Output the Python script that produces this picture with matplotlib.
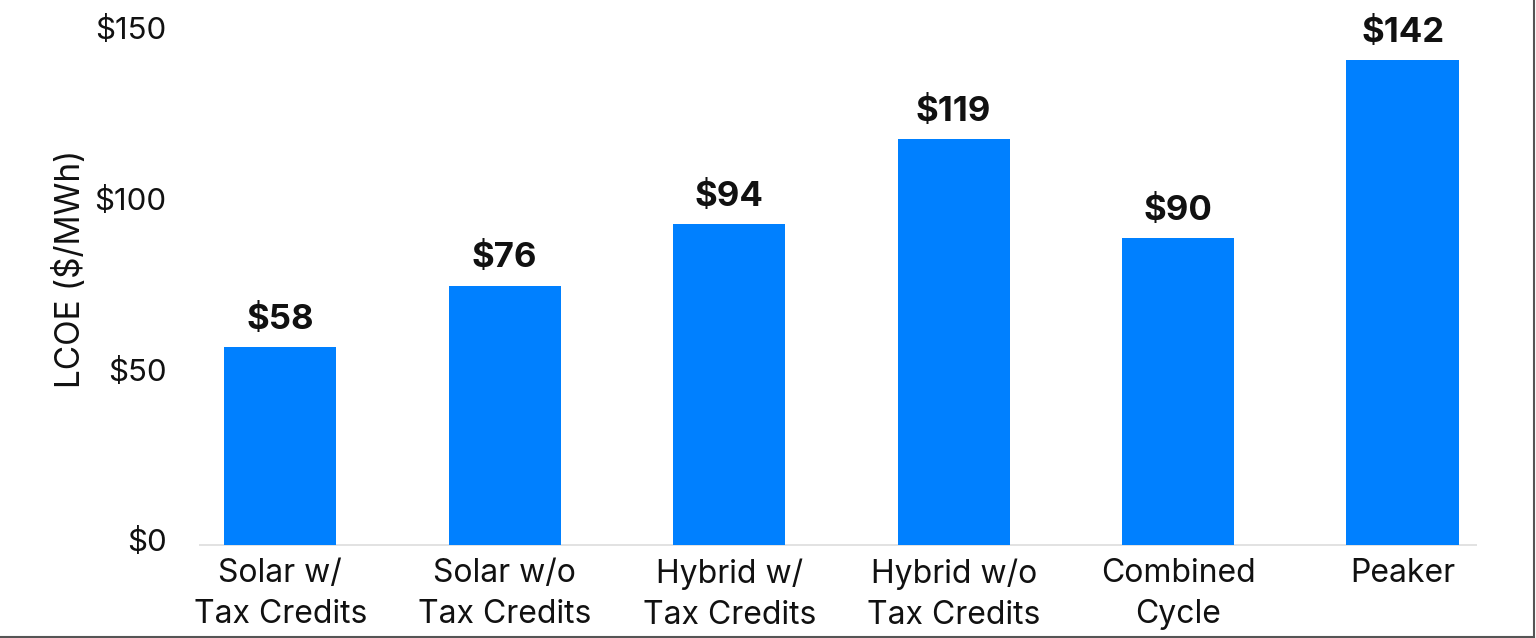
import matplotlib.pyplot as plt
import matplotlib.transforms as mtransforms
from matplotlib.lines import Line2D

# data
categories = ['Solar w/\nTax Credits', 'Solar w/o\nTax Credits', 'Hybrid w/\nTax Credits',
              'Hybrid w/o\nTax Credits', 'Combined\nCycle', 'Peaker']
lcoe = [58, 76, 94, 119, 90, 142]
yticks = [0, 50, 100, 150]
ytick_labels = ['$0', '$50', '$100', '$150']

plt.rcParams['font.family'] = ['Inter', 'DejaVu Sans']

fig = plt.figure(figsize=(15.36, 6.38), dpi=100)
ax = fig.add_axes([0.1094, 0.1458, 0.8768, 0.8025])

x = list(range(len(categories)))
bars = ax.bar(x, lcoe, width=0.5, color='#0080FF', zorder=2)

# value labels above bars
for xi, v in zip(x, lcoe):
    ax.annotate(f'${v}', (xi, v), xytext=(0, 8), textcoords='offset points',
                ha='center', va='bottom', fontsize=25, fontweight='bold', color='#111111')

ax.set_xlim(-0.5, 5.5)
ax.set_ylim(0, 150)
ax.set_yticks(yticks)
ax.set_yticklabels(ytick_labels, fontsize=22.5, color='#111111')
ax.set_xticks(x)
ax.set_xticklabels(categories, fontsize=23, color='#111111', linespacing=1.42)
ax.tick_params(axis='both', length=0)
ax.tick_params(axis='y', pad=1)
ax.tick_params(axis='x', pad=9.4)

# nudge y tick labels up a little, as in the original
offset = mtransforms.ScaledTranslation(0, 5 / 100, fig.dpi_scale_trans)
for lab in ax.get_yticklabels():
    lab.set_transform(lab.get_transform() + offset)

ax.set_ylabel('LCOE ($/MWh)', fontsize=24, color='#111111')
ax.yaxis.set_label_coords(-0.060, 0.539)

for s in ax.spines.values():
    s.set_visible(False)

# light baseline
ax.hlines(0, -0.36, 5.33, color='#dddddd', linewidth=1.2, zorder=1, clip_on=False)

# dark border on bottom and right edge of the picture
fig.add_artist(Line2D([0, 0.9987], [0.002, 0.002], transform=fig.transFigure, color='#555555', linewidth=1.5))
fig.add_artist(Line2D([0.9987, 0.9987], [0.002, 1], transform=fig.transFigure, color='#555555', linewidth=1.5))

fig.savefig('out.png', dpi=100)
